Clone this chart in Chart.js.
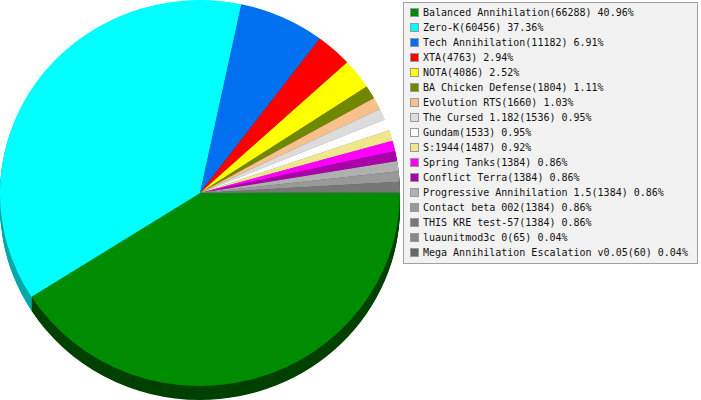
<!DOCTYPE html>
<html>
<head>
<meta charset="utf-8">
<script src="https://cdn.jsdelivr.net/npm/chart.js@4"></script>
<style>
  html, body { margin: 0; padding: 0; background: #fff; }
  #wrap { position: relative; width: 701px; height: 400px; overflow: hidden; }
  #pieBox { position: absolute; left: 0; top: 0; width: 400px; height: 400px; }
  #legend {
    position: absolute; left: 403px; top: 2px; width: 293px; height: 260px;
    background: #f2f2f2; border: 1px solid #a0a0a0;
    font-family: "DejaVu Sans Mono", monospace; font-size: 10px; color: #111;
  }
  .row { position: absolute; left: 0; height: 15px; line-height: 15px; white-space: nowrap; }
  .sw { position: absolute; left: 6px; top: 3px; width: 7px; height: 7px; border: 1px solid #999; }
  .tx { position: absolute; left: 19px; top: 0; }
</style>
</head>
<body>
<div id="wrap">
  <div id="pieBox"><canvas id="pieChart" width="400" height="400"></canvas></div>
  <div id="legend"></div>
</div>
<script>
const mods = [
  "Balanced Annihilation", "Zero-K", "Tech Annihilation", "XTA", "NOTA",
  "BA Chicken Defense", "Evolution RTS", "The Cursed 1.182", "Gundam", "S:1944",
  "Spring Tanks", "Conflict Terra", "Progressive Annihilation 1.5", "Contact beta 002",
  "THIS KRE test-57", "luaunitmod3c 0", "Mega Annihilation Escalation v0.05"
];
const games = [66288, 60456, 11182, 4763, 4086, 1804, 1660, 1536, 1533, 1487, 1384, 1384, 1384, 1384, 1384, 65, 60];
const colors = [
  "#008c00", "#00ffff", "#0070f0", "#ff0000", "#ffff00",
  "#708800", "#f8c08a", "#dcdcdc", "#ffffff", "#f0e68c",
  "#ff00ff", "#aa00aa", "#b0b0b0", "#999999", "#777777", "#888888", "#666666"
];
const sideColors = [
  "#004000", "#00aaaa", "#003c80", "#800000", "#808000",
  "#384400", "#7c6045", "#6e6e6e", "#808080", "#787346",
  "#800080", "#550055", "#585858", "#4c4c4c", "#3c3c3c", "#444444", "#333333"
];

const squash = 193 / 200;
const depth = 14;

const total = games.reduce((a, b) => a + b, 0);
const legend = document.getElementById("legend");
legend.innerHTML = mods.map((m, i) => {
  const pct = (games[i] / total * 100).toFixed(2);
  return `<div class="row" style="top:${2 + 15 * i}px"><div class="sw" style="background:${colors[i]}"></div><div class="tx">${m}(${games[i]}) ${pct}%</div></div>`;
}).join("");

// squash the pie into an ellipse and draw a dark rim under it
const tiltPlugin = {
  id: "tilt",
  beforeDatasetsDraw(chart) {
    const ctx = chart.ctx;
    ctx.save();
    ctx.scale(1, squash);
    const arcs = chart.getDatasetMeta(0).data;
    for (let d = depth; d >= 1; d--) {
      arcs.forEach((arc, i) => {
        const p = arc.getProps(["x", "y", "startAngle", "endAngle", "outerRadius"], true);
        ctx.beginPath();
        ctx.moveTo(p.x, p.y + d / squash);
        ctx.arc(p.x, p.y + d / squash, p.outerRadius, p.startAngle, p.endAngle);
        ctx.closePath();
        ctx.fillStyle = sideColors[i];
        ctx.fill();
      });
    }
  },
  afterDatasetsDraw(chart) {
    chart.ctx.restore();
  }
};

new Chart(document.getElementById("pieChart"), {
  type: "pie",
  data: {
    labels: mods,
    datasets: [{ data: games, backgroundColor: colors, borderWidth: 0, hoverOffset: 0 }]
  },
  options: {
    responsive: false,
    animation: false,
    events: [],
    rotation: 90,
    layout: { padding: 0 },
    plugins: { legend: { display: false }, tooltip: { enabled: false } }
  },
  plugins: [tiltPlugin]
});
</script>
</body>
</html>
